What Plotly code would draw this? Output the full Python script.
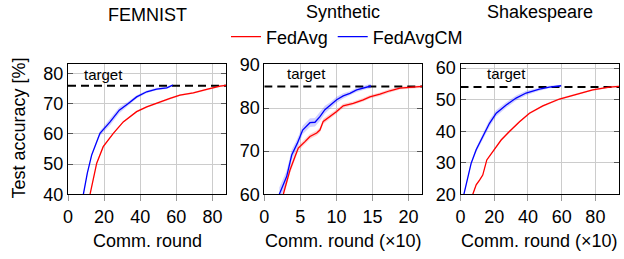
import plotly.graph_objects as go

W, H = 624, 259

# ---------------- data ----------------
panel_titles = ["FEMNIST", "Synthetic", "Shakespeare"]
x_titles = ["Comm. round", "Comm. round (×10)", "Comm. round (×10)"]
targets = [76, 85, 54]

# FEMNIST
fem_avg_x = [12.2, 15.9, 19.5, 25.1, 30.6, 38.0, 43.6, 50.9, 56.5, 62.0, 69.4, 76.8, 84.2, 87.5]
fem_avg_y = [40.0, 50.3, 55.8, 60.2, 64.0, 67.4, 69.0, 70.7, 71.8, 72.9, 73.6, 74.8, 75.9, 76.1]
fem_avg_sd = [0.3, 0.3, 0.3, 0.3, 0.3, 0.3, 0.3, 0.3, 0.3, 0.3, 0.3, 0.3, 0.3, 0.3]
fem_cm_x = [8.5, 10.7, 13.1, 17.7, 23.3, 28.4, 33.4, 38.0, 43.6, 49.1, 54.7, 58.0]
fem_cm_y = [40.0, 47.0, 53.0, 60.2, 64.0, 67.9, 70.1, 72.3, 74.0, 74.9, 75.3, 76.2]
fem_cm_sd = [0.4, 0.4, 0.5, 0.8, 1.1, 1.0, 0.7, 0.5, 0.4, 0.4, 0.4, 0.3]

# Synthetic (rounds x10)
syn_avg_x = [2.63, 3.56, 4.25, 4.71, 5.64, 6.33, 7.26, 7.71, 8.17, 9.10, 10.03, 10.94, 12.33,
             13.71, 14.64, 16.03, 17.41, 18.8, 20.19, 21.9]
syn_avg_y = [60.0, 65.6, 68.7, 70.7, 72.2, 73.4, 74.2, 74.9, 76.9, 78.0, 79.2, 80.5, 81.1,
             81.9, 82.6, 83.2, 84.0, 84.6, 84.8, 85.0]
syn_avg_sd = [0.8, 0.8, 0.7, 0.6, 0.6, 0.6, 0.6, 0.6, 0.6, 0.6, 0.5, 0.5, 0.4,
              0.4, 0.4, 0.4, 0.4, 0.3, 0.3, 0.3]
syn_cm_x = [2.08, 3.10, 3.80, 4.57, 5.32, 6.33, 7.02, 7.71, 8.40, 9.10, 10.03, 10.94, 11.87,
            12.80, 13.95, 14.78]
syn_cm_y = [60.0, 64.1, 69.1, 71.8, 74.9, 76.6, 76.7, 78.0, 79.6, 80.5, 81.9, 82.8, 83.4,
            84.2, 84.8, 85.1]
syn_cm_sd = [1.6, 1.4, 1.2, 1.1, 1.0, 1.0, 1.0, 1.0, 0.9, 0.8, 0.7, 0.6, 0.5,
             0.5, 0.5, 0.5]

# Shakespeare (rounds x10)
shk_avg_x = [7.3, 9.3, 11.3, 13.2, 15.6, 19.1, 24.1, 29.0, 35.0, 40.9, 48.8, 58.7, 68.6, 78.4, 88.3, 94.0]
shk_avg_y = [20.0, 23.0, 24.5, 26.1, 30.9, 33.5, 37.2, 39.9, 43.0, 45.7, 48.0, 50.2, 51.7, 53.1, 54.0, 54.2]
shk_avg_sd = [0.3, 0.3, 0.3, 0.3, 0.3, 0.3, 0.3, 0.3, 0.3, 0.3, 0.3, 0.3, 0.3, 0.3, 0.3, 0.3]
shk_cm_x = [2.0, 4.3, 6.3, 9.3, 13.2, 17.2, 21.2, 27.1, 33.0, 38.9, 46.8, 52.7, 59.7]
shk_cm_y = [20.0, 25.6, 29.8, 34.1, 38.3, 42.5, 45.7, 48.3, 50.5, 52.1, 53.3, 54.0, 54.4]
shk_cm_sd = [0.4, 0.5, 0.6, 0.8, 1.0, 1.1, 1.0, 0.9, 0.8, 0.7, 0.5, 0.4, 0.3]

x_ranges = [[0, 87.5], [0, 21.9], [0, 94.0]]
y_ranges = [[40, 83.2], [60, 90.2], [20, 61.3]]
x_ticks = [[0, 20, 40, 60, 80], [0, 5, 10, 15, 20], [0, 20, 40, 60, 80]]
y_ticks = [[40, 50, 60, 70, 80], [60, 70, 80, 90], [20, 30, 40, 50, 60]]
target_label_pos = [(19.4, 79.8), (5.9, 87.9), (27.3, 58.2)]

series = [
    (fem_avg_x, fem_avg_y, fem_avg_sd, fem_cm_x, fem_cm_y, fem_cm_sd),
    (syn_avg_x, syn_avg_y, syn_avg_sd, syn_cm_x, syn_cm_y, syn_cm_sd),
    (shk_avg_x, shk_avg_y, shk_avg_sd, shk_cm_x, shk_cm_y, shk_cm_sd),
]

# ---------------- layout geometry (pixels) ----------------
x_dom_px = [(68, 226), (264.3, 422.3), (460.5, 619)]
y_top_px, y_bot_px = 64.0, 194.3

FONT = "Liberation Sans, Arial, Helvetica, sans-serif"
RED = "#ff0000"
BLUE = "#0000ff"

fig = go.Figure()


def band(x, y, sd):
    up = [a + b for a, b in zip(y, sd)]
    lo = [a - b for a, b in zip(y, sd)]
    return list(x) + list(x)[::-1], up + lo[::-1]


for i, (ax, ay, asd, cx, cy, csd) in enumerate(series):
    xa = "x" if i == 0 else f"x{i+1}"
    ya = "y" if i == 0 else f"y{i+1}"
    # dashed target
    fig.add_trace(go.Scatter(x=x_ranges[i], y=[targets[i], targets[i]], mode="lines",
                             line=dict(color="black", width=2, dash="8px,5px"),
                             xaxis=xa, yaxis=ya, showlegend=False, hoverinfo="skip"))
    # bands
    bx, by = band(ax, ay, asd)
    fig.add_trace(go.Scatter(x=bx, y=by, fill="toself", fillcolor="rgba(255,0,0,0.18)",
                             line=dict(width=0), mode="lines", xaxis=xa, yaxis=ya,
                             showlegend=False, hoverinfo="skip"))
    bx, by = band(cx, cy, csd)
    fig.add_trace(go.Scatter(x=bx, y=by, fill="toself", fillcolor="rgba(0,0,255,0.18)",
                             line=dict(width=0), mode="lines", xaxis=xa, yaxis=ya,
                             showlegend=False, hoverinfo="skip"))
    # lines
    fig.add_trace(go.Scatter(x=ax, y=ay, mode="lines", name="FedAvg",
                             line=dict(color=RED, width=1.3), xaxis=xa, yaxis=ya,
                             showlegend=(i == 0)))
    fig.add_trace(go.Scatter(x=cx, y=cy, mode="lines", name="FedAvgCM",
                             line=dict(color=BLUE, width=1.3), xaxis=xa, yaxis=ya,
                             showlegend=(i == 0)))

layout = dict(
    width=W, height=H,
    autosize=False,
    margin=dict(l=0, r=0, t=0, b=0, pad=0, autoexpand=False),
    paper_bgcolor="white", plot_bgcolor="white",
    font=dict(family=FONT, size=18, color="black"),
    showlegend=True,
    legend=dict(orientation="h", x=226 / W, xanchor="left", y=(H - 37) / H, yanchor="middle",
                font=dict(size=18), bgcolor="rgba(0,0,0,0)", itemwidth=30,
                tracegroupgap=0),
)

annotations = []
for i in range(3):
    xk = "xaxis" if i == 0 else f"xaxis{i+1}"
    yk = "yaxis" if i == 0 else f"yaxis{i+1}"
    x0, x1 = x_dom_px[i]
    layout[xk] = dict(
        domain=[x0 / W, x1 / W], range=x_ranges[i], tickvals=x_ticks[i],
        anchor="y" if i == 0 else f"y{i+1}", automargin=False,
        showgrid=True, gridcolor="#cccccc", gridwidth=1,
        showline=True, linecolor="black", linewidth=1, mirror=True,
        ticks="outside", ticklen=6, tickcolor="#999999", tickwidth=1,
        tickfont=dict(size=18), zeroline=False, fixedrange=True,
    )
    layout[yk] = dict(
        domain=[(H - y_bot_px) / H, (H - y_top_px) / H], range=y_ranges[i], tickvals=y_ticks[i],
        anchor="x" if i == 0 else f"x{i+1}", automargin=False,
        showgrid=True, gridcolor="#cccccc", gridwidth=1,
        showline=True, linecolor="black", linewidth=1, mirror="ticks",
        ticks="inside", ticklen=5, tickcolor="#555555", tickwidth=1,
        tickfont=dict(size=18), zeroline=False, fixedrange=True,
    )
    cx_px = (x0 + x1) / 2
    annotations.append(dict(text=panel_titles[i], x=cx_px / W, y=(H - (15 if i == 0 else 11.5)) / H,
                            xref="paper", yref="paper", showarrow=False,
                            xanchor="center", yanchor="middle", font=dict(size=18)))
    annotations.append(dict(text=x_titles[i], x=cx_px / W, y=(H - 241) / H,
                            xref="paper", yref="paper", showarrow=False,
                            xanchor="center", yanchor="middle", font=dict(size=18)))
    tx, ty = target_label_pos[i]
    annotations.append(dict(text="target", x=tx, y=ty,
                            xref="x" if i == 0 else f"x{i+1}",
                            yref="y" if i == 0 else f"y{i+1}",
                            showarrow=False, xanchor="center", yanchor="middle",
                            font=dict(size=15)))

annotations.append(dict(text="Test accuracy [%]", x=18 / W, y=(H - 128.5) / H,
                        xref="paper", yref="paper", showarrow=False, textangle=-90,
                        xanchor="center", yanchor="middle", font=dict(size=18)))
layout["annotations"] = annotations

fig.update_layout(**layout)
fig.write_html("out.html", config={"responsive": False, "displayModeBar": False},
               post_script="document.body.style.margin='0';document.body.style.padding='0';")
